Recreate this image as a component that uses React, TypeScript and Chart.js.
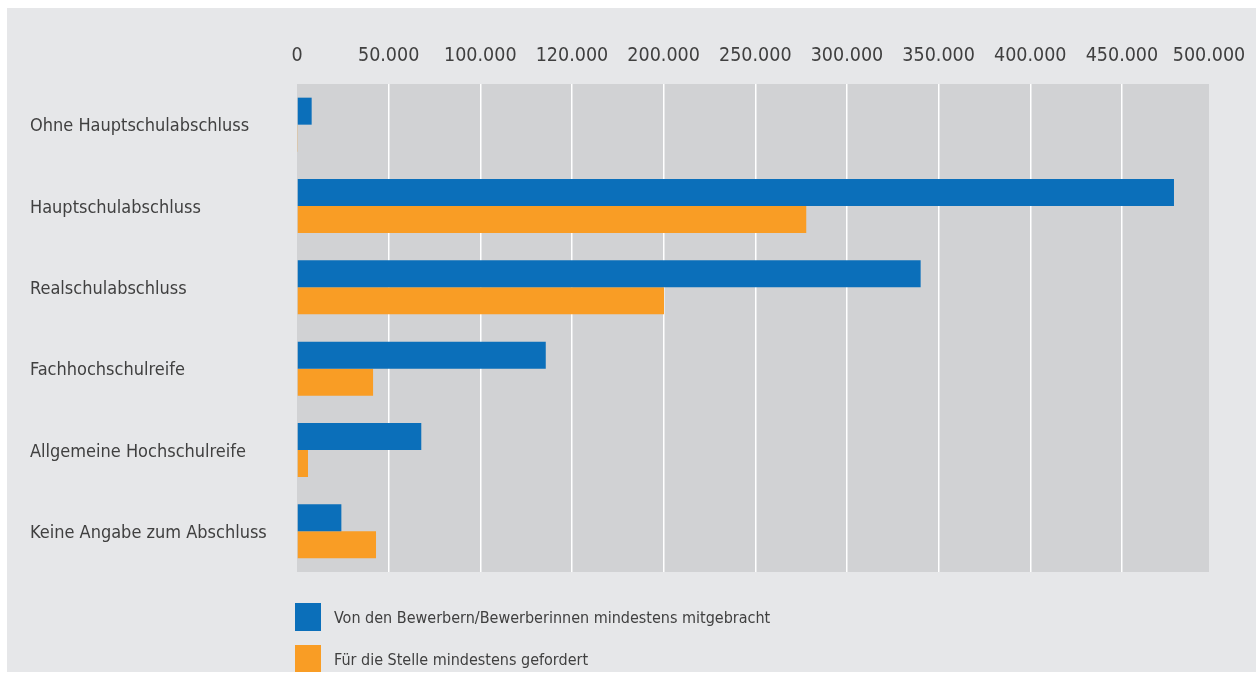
import React, { useEffect, useRef } from "react";
import { Chart, registerables } from "chart.js";

Chart.register(...registerables);

const categories = [
  "Ohne Hauptschulabschluss",
  "Hauptschulabschluss",
  "Realschulabschluss",
  "Fachhochschulreife",
  "Allgemeine Hochschulreife",
  "Keine Angabe zum Abschluss",
];

const seriesNames = [
  "Von den Bewerbern/Bewerberinnen mindestens mitgebracht",
  "Für die Stelle mindestens gefordert",
];

const mitgebracht = [8000, 478400, 340200, 135700, 67800, 24200];
const gefordert = [300, 277800, 200200, 41500, 6000, 43100];

const seriesColors = ["#0b6fba", "#f99d25"];

const xMax = 497500;
const tickValues = [0, 50000, 100000, 150000, 200000, 250000, 300000, 350000, 400000, 450000, xMax];
const tickLabels = [
  "0",
  "50.000",
  "100.000",
  "120.000",
  "200.000",
  "250.000",
  "300.000",
  "350.000",
  "400.000",
  "450.000",
  "500.000",
];

const FONT = '"DejaVu Sans", sans-serif';
const TEXT = "#404040";

const plotBg = {
  id: "plotBg",
  beforeDraw(chart: any) {
    const { ctx, chartArea } = chart;
    if (!chartArea) return;
    ctx.save();
    ctx.fillStyle = "#d1d2d4";
    ctx.fillRect(chartArea.left, chartArea.top, chartArea.right - chartArea.left, chartArea.bottom - chartArea.top);
    ctx.restore();
  },
};

export default function App() {
  const ref = useRef<HTMLCanvasElement | null>(null);

  useEffect(() => {
    if (!ref.current) return;
    const chart = new Chart(ref.current, {
      type: "bar",
      data: {
        labels: categories,
        datasets: [
          { label: seriesNames[0], data: mitgebracht, backgroundColor: seriesColors[0] },
          { label: seriesNames[1], data: gefordert, backgroundColor: seriesColors[1] },
        ],
      },
      options: {
        indexAxis: "y",
        animation: false,
        responsive: true,
        maintainAspectRatio: false,
        categoryPercentage: 0.664,
        barPercentage: 1,
        layout: { padding: { left: 23, right: 47, top: 0, bottom: 100 } },
        plugins: {
          legend: { display: false },
          tooltip: { enabled: false },
        },
        scales: {
          x: {
            type: "linear",
            position: "top",
            min: 0,
            max: xMax,
            afterBuildTicks: (axis: any) => {
              axis.ticks = tickValues.map((value) => ({ value }));
            },
            afterFit: (scale: any) => {
              scale.height = 76;
              scale.paddingRight = 0;
              scale.paddingLeft = 0;
            },
            border: { display: false },
            grid: {
              drawTicks: false,
              lineWidth: 1.5,
              color: (ctx: any) =>
                ctx.index === 0 || ctx.index === tickValues.length - 1 ? "rgba(0,0,0,0)" : "#ffffff",
            },
            ticks: {
              padding: 16,
              color: TEXT,
              font: { family: FONT, size: 19.5, weight: "condensed" as any },
              maxRotation: 0,
              autoSkip: false,
              callback: (_v: any, i: number) => tickLabels[i],
            },
          },
          y: {
            afterFit: (scale: any) => {
              scale.width = 267;
            },
            border: { display: false },
            grid: { display: false },
            ticks: {
              crossAlign: "far",
              padding: 0,
              labelOffset: 2,
              color: TEXT,
              font: { family: FONT, size: 18, weight: "condensed" as any },
            },
          },
        },
      },
      plugins: [plotBg],
    });
    return () => chart.destroy();
  }, []);

  return (
    <div
      style={{
        position: "fixed",
        left: 7,
        top: 8,
        width: 1249,
        height: 664,
        background: "#e6e7e9",
        overflow: "hidden",
      }}
    >
      <div style={{ position: "absolute", left: 0, top: 0, width: 1249, height: 664 }}>
        <canvas ref={ref} />
      </div>
      {seriesNames.map((name, i) => (
        <div
          key={name}
          style={{
            position: "absolute",
            left: 288,
            top: 595 + i * 42,
            height: 28,
            display: "flex",
            alignItems: "center",
            fontFamily: FONT,
            fontStretch: "condensed",
            fontSize: 16,
            color: TEXT,
            whiteSpace: "nowrap",
          }}
        >
          <span
            style={{
              display: "inline-block",
              width: 26,
              height: 28,
              background: seriesColors[i],
              marginRight: 13,
            }}
          />
          <span>{name}</span>
        </div>
      ))}
    </div>
  );
}
